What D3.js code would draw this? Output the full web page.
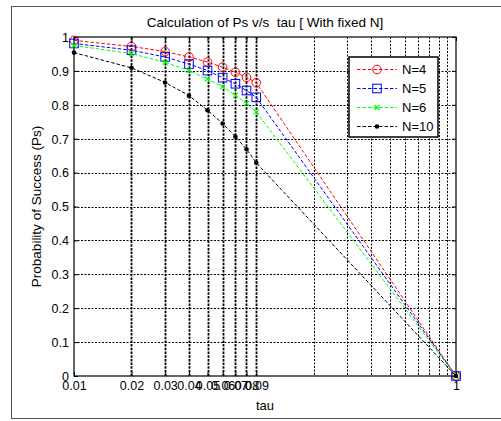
<!DOCTYPE html>
<meta charset="utf-8">
<style>
    body { margin: 0; background: #fff; }
    text { font-family: "Liberation Sans", Arial, sans-serif; fill: #000; }
    .tick text { font-size: 12.5px; }
    .grid line { stroke: #000; }
    .legendText { font-size: 13px; }
</style>
<svg width="501" height="421"></svg>
<script src="https://d3js.org/d3.v7.min.js"></script>
<script>
    // x values (tau) and the four series
    var tau = [0.01, 0.02, 0.03, 0.04, 0.05, 0.06, 0.07, 0.08, 0.09, 1];
    var ps4 = [0.990, 0.972, 0.957, 0.941, 0.926, 0.911, 0.896, 0.881, 0.865, 0];
    var ps5 = [0.981, 0.961, 0.941, 0.920, 0.901, 0.880, 0.862, 0.842, 0.822, 0];
    var ps6 = [0.975, 0.951, 0.925, 0.901, 0.876, 0.853, 0.828, 0.804, 0.779, 0];
    var ps10 = [0.954, 0.909, 0.866, 0.827, 0.784, 0.745, 0.706, 0.669, 0.629, 0];

    var seriesNames = ["N=4", "N=5", "N=6", "N=10"];
    var seriesColors = ["#ff0000", "#0000ff", "#00ff00", "#000000"];
    var seriesMarkers = ["circle", "square", "x", "dot"];

    var xTickLabels = ["0.01", "0.02", "0.03", "0.04", "0.05", "0.06", "0.07", "0.08", "0.09", "1"];
    var yTicks = [0, 0.1, 0.2, 0.3, 0.4, 0.5, 0.6, 0.7, 0.8, 0.9, 1];
    // minor grid that matlab put between 0.09 and 1
    var minorGrid = [0.18, 0.27, 0.36, 0.45, 0.54, 0.63, 0.72, 0.81, 0.90];

    var svg = d3.select("svg");
    var margin = {left: 74, top: 37, right: 45, bottom: 45};
    var width = 501 - margin.left - margin.right,
        height = 421 - margin.top - margin.bottom;

    // figure frame
    svg.append("rect")
        .attr("x", 11.5).attr("y", 6.5)
        .attr("width", 520).attr("height", 412)
        .attr("fill", "#fff")
        .attr("stroke", "#555");

    var g = svg.append("g").attr("transform", "translate(" + margin.left + "," + margin.top + ")");

    var x = d3.scaleLog().domain([0.01, 1]).range([0, width]);
    var y = d3.scaleLinear().domain([0, 1]).range([height, 0]);

    // horizontal grid
    g.append("g").attr("class", "grid")
        .selectAll("line")
        .data(yTicks.filter(function (d) { return d > 0 && d < 1; }))
        .enter().append("line")
        .attr("x1", 0).attr("x2", width)
        .attr("y1", function (d) { return Math.round(y(d)) + 0.5; })
        .attr("y2", function (d) { return Math.round(y(d)) + 0.5; })
        .attr("stroke-width", 1)
        .attr("stroke-dasharray", "2,1.5");

    // minor vertical grid
    g.append("g").attr("class", "grid")
        .selectAll("line")
        .data(minorGrid)
        .enter().append("line")
        .attr("x1", function (d) { return Math.round(x(d)) + 0.5; })
        .attr("x2", function (d) { return Math.round(x(d)) + 0.5; })
        .attr("y1", 0).attr("y2", height)
        .attr("stroke-width", 1)
        .attr("stroke-dasharray", "2,1.5");

    // tick grid at the data points (heavier)
    g.append("g").attr("class", "grid")
        .selectAll("line")
        .data(tau.slice(1, 9))
        .enter().append("line")
        .attr("x1", function (d) { return Math.round(x(d)) + 0.5; })
        .attr("x2", function (d) { return Math.round(x(d)) + 0.5; })
        .attr("y1", 0).attr("y2", height)
        .attr("stroke-width", 1.8)
        .attr("stroke-dasharray", "2.5,1.2");

    // axes
    var xAxis = d3.axisBottom(x)
        .tickValues(tau)
        .tickFormat(function (d, i) { return xTickLabels[i]; })
        .tickSizeInner(-4).tickSizeOuter(0).tickPadding(8);
    var yAxis = d3.axisLeft(y)
        .tickValues(yTicks)
        .tickFormat(function (d) { return d3.format("")(d); })
        .tickSizeInner(-4).tickSizeOuter(0).tickPadding(5);

    var gx = g.append("g").attr("transform", "translate(0," + height + ")").call(xAxis);
    var gy = g.append("g").call(yAxis);
    g.append("g").call(d3.axisTop(x).tickValues(tau).tickFormat("").tickSizeInner(-4).tickSizeOuter(0));
    g.append("g").attr("transform", "translate(" + width + ",0)")
        .call(d3.axisRight(y).tickValues(yTicks).tickFormat("").tickSizeInner(-4).tickSizeOuter(0));
    g.selectAll(".domain").remove();
    g.selectAll(".tick line").attr("stroke", "#000");
    gx.selectAll("text").attr("dy", "0.5em");
    gy.selectAll("text").attr("dy", "0.35em");

    // plot box
    g.append("rect")
        .attr("width", width).attr("height", height)
        .attr("fill", "none").attr("stroke", "#000").attr("stroke-width", 1.2);

    var allSeries = [ps4, ps5, ps6, ps10];

    function drawMarker(sel, kind, color) {
        if (kind === "circle") {
            sel.append("circle").attr("r", 4.3).attr("fill", "none").attr("stroke", color);
        } else if (kind === "square") {
            sel.append("rect").attr("x", -4.3).attr("y", -4.3).attr("width", 8.6).attr("height", 8.6)
                .attr("fill", "none").attr("stroke", color);
        } else if (kind === "x") {
            sel.append("path").attr("d", "M-2.5,-2.5L2.5,2.5M-2.5,2.5L2.5,-2.5")
                .attr("stroke", color).attr("stroke-width", 1.2);
        } else {
            sel.append("circle").attr("r", 2.3).attr("fill", color);
        }
    }

    var line = d3.line()
        .x(function (d) { return x(d[0]); })
        .y(function (d) { return y(d[1]); });

    allSeries.forEach(function (vals, k) {
        var pts = tau.map(function (t, i) { return [t, vals[i]]; });
        g.append("path")
            .datum(pts)
            .attr("d", line)
            .attr("fill", "none")
            .attr("stroke", seriesColors[k])
            .attr("stroke-width", 1)
            .attr("stroke-dasharray", "3.5,2");
        g.selectAll(".m" + k)
            .data(pts)
            .enter().append("g")
            .attr("class", "m" + k)
            .attr("transform", function (d) { return "translate(" + x(d[0]) + "," + y(d[1]) + ")"; })
            .each(function () { drawMarker(d3.select(this), seriesMarkers[k], seriesColors[k]); });
    });

    // title and labels
    svg.append("text")
        .attr("x", margin.left + width / 2).attr("y", 27)
        .attr("text-anchor", "middle").style("font-size", "13.5px")
        .attr("xml:space", "preserve")
        .text("Calculation of Ps v/s  tau [ With fixed N]");
    svg.append("text")
        .attr("x", margin.left + width / 2).attr("y", 410)
        .attr("text-anchor", "middle").style("font-size", "13px")
        .text("tau");
    svg.append("text")
        .attr("transform", "translate(41," + (margin.top + height / 2) + ") rotate(-90)")
        .attr("text-anchor", "middle").style("font-size", "13.5px")
        .text("Probability of Success (Ps)");

    // legend
    var lg = svg.append("g").attr("transform", "translate(349,57)");
    lg.append("rect")
        .attr("width", 89).attr("height", 80)
        .attr("fill", "#fff").attr("stroke", "#000").attr("stroke-width", 1.5);
    seriesNames.forEach(function (name, k) {
        var row = lg.append("g").attr("transform", "translate(0," + (12.5 + k * 19) + ")");
        row.append("line")
            .attr("x1", 8).attr("x2", 48)
            .attr("stroke", seriesColors[k]).attr("stroke-dasharray", "3.5,2");
        var m = row.append("g").attr("transform", "translate(28,0)");
        drawMarker(m, seriesMarkers[k], seriesColors[k]);
        row.append("text")
            .attr("class", "legendText")
            .attr("x", 53).attr("dy", "0.36em")
            .text(name);
    });
</script>
